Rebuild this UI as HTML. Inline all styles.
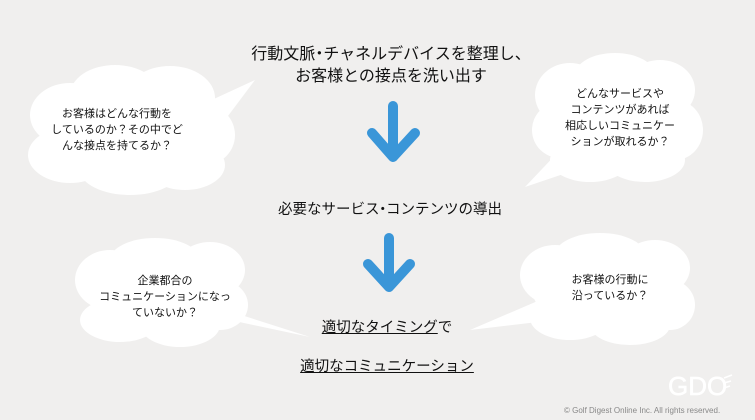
<!DOCTYPE html>
<html><head><meta charset="utf-8"><style>
body{margin:0;width:755px;height:420px;overflow:hidden;background:#f0efee;font-family:"Liberation Sans","Noto Sans CJK JP",sans-serif;}
svg{position:absolute;left:0;top:0}
.t{position:absolute;color:#111;text-align:center;white-space:nowrap}
.d{margin:0 -4px}
</style></head><body>
<svg width="755" height="420">
<g fill="#fff">
 <polygon points="190,110 255,80 210,140"/>
 <ellipse cx="70" cy="115" rx="40" ry="32"/><ellipse cx="115" cy="95" rx="45" ry="30"/>
 <ellipse cx="170" cy="98" rx="45" ry="32"/><ellipse cx="205" cy="135" rx="30" ry="30"/>
 <ellipse cx="185" cy="165" rx="40" ry="25"/><ellipse cx="130" cy="170" rx="50" ry="25"/>
 <ellipse cx="70" cy="155" rx="42" ry="28"/><ellipse cx="130" cy="130" rx="90" ry="40"/>
 <polygon points="560,150 525,187 590,165"/>
 <ellipse cx="570" cy="95" rx="35" ry="32"/><ellipse cx="615" cy="75" rx="40" ry="22"/>
 <ellipse cx="660" cy="90" rx="35" ry="30"/><ellipse cx="675" cy="130" rx="28" ry="30"/>
 <ellipse cx="645" cy="160" rx="40" ry="22"/><ellipse cx="590" cy="160" rx="40" ry="22"/>
 <ellipse cx="560" cy="130" rx="28" ry="28"/><ellipse cx="618" cy="120" rx="65" ry="45"/>
 <polygon points="210,305 310,337 230,320"/>
 <ellipse cx="110" cy="280" rx="35" ry="30"/><ellipse cx="155" cy="260" rx="45" ry="22"/>
 <ellipse cx="210" cy="270" rx="35" ry="28"/><ellipse cx="220" cy="305" rx="28" ry="25"/>
 <ellipse cx="180" cy="325" rx="40" ry="22"/><ellipse cx="120" cy="320" rx="40" ry="22"/>
 <ellipse cx="163" cy="295" rx="75" ry="38"/>
 <polygon points="540,300 470,330 555,320"/>
 <ellipse cx="555" cy="275" rx="35" ry="30"/><ellipse cx="600" cy="255" rx="45" ry="22"/>
 <ellipse cx="655" cy="268" rx="35" ry="28"/><ellipse cx="670" cy="305" rx="25" ry="25"/>
 <ellipse cx="630" cy="325" rx="40" ry="20"/><ellipse cx="570" cy="318" rx="40" ry="22"/>
 <ellipse cx="608" cy="292" rx="75" ry="38"/>
</g>
<g stroke="#3a96d8" stroke-width="10" stroke-linecap="round" stroke-linejoin="round" fill="none">
 <path d="M393,106 V157 M372,133 L393,157 L415,133"/>
 <path d="M389,238 V287 M368,264 L389,287 L410,264"/>
</g>
<text x="668" y="395" font-family="Liberation Sans" font-size="26" fill="#fff" stroke="#fff" stroke-width="0.5">GDO</text>
<g stroke="#fff" stroke-width="1.5"><path d="M724,378 l8,-3 M724,383 l7,-2 M724,388 l6,-2"/></g>
</svg>
<div class="t" style="left:0;width:782px;top:44px;font-size:16px;line-height:22px">行動文脈<span class="d">・</span>チャネルデバイスを整理し、<br>お客様との接点を洗い出す</div>
<div class="t" style="left:0;width:780px;top:198px;font-size:14.5px">必要なサービス<span class="d">・</span>コンテンツの導出</div>
<div class="t" style="left:0;width:774px;top:316px;font-size:14.5px"><u>適切なタイミング</u>で</div>
<div class="t" style="left:0;width:774px;top:355px;font-size:14.5px"><u>適切なコミュニケーション</u></div>
<div class="t" style="left:17px;width:200px;top:106px;font-size:11px;line-height:16px">お客様はどんな行動を<br>しているのか？その中でど<br>んな接点を持てるか？</div>
<div class="t" style="left:550px;width:140px;top:86px;font-size:11px;line-height:16px">どんなサービスや<br>コンテンツがあれば<br>相応しいコミュニケー<br>ションが取れるか？</div>
<div class="t" style="left:90px;width:150px;top:273px;font-size:11px;line-height:16px">企業都合の<br>コミュニケーションになっ<br>ていないか？</div>
<div class="t" style="left:535px;width:150px;top:272px;font-size:11px;line-height:16px">お客様の行動に<br>沿っているか？</div>
<div class="t" style="left:564px;top:406px;font-size:8px;color:#888">© Golf Digest Online Inc.  All rights reserved.</div>
</body></html>
